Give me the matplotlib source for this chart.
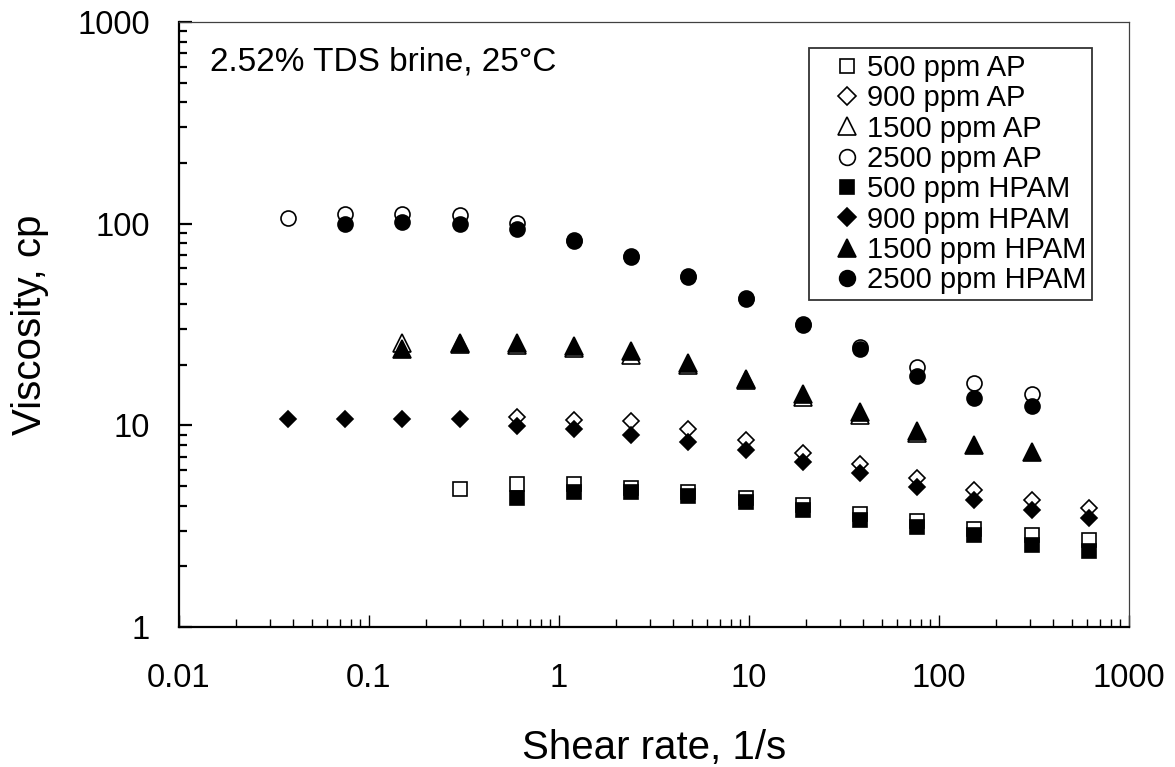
import numpy as np
import matplotlib
matplotlib.use("Agg")
import matplotlib.pyplot as plt
from matplotlib.ticker import LogLocator, NullFormatter

plt.rcParams['font.family'] = ['Liberation Sans', 'DejaVu Sans']

nan = np.nan
# shear rate, 1/s
rate = [0.0375, 0.075, 0.15, 0.3, 0.6, 1.2, 2.4, 4.8, 9.6, 19.2,
        38.4, 76.8, 153.6, 307.2, 614.4]

# viscosity, cp
ap500 = [nan, nan, nan, 4.85, 5.1, 5.1, 4.89, 4.67, 4.38, 4.01,
         3.65, 3.35, 3.06, 2.87, 2.69]
ap900 = [nan, nan, nan, nan, 11.0, 10.6, 10.45, 9.6, 8.5, 7.26,
         6.41, 5.46, 4.78, 4.26, 3.90]
ap1500 = [nan, nan, 25.5, 25.2, 25.0, 24.3, 22.4, 20.0, 16.8, 13.9,
          11.2, 9.2, nan, nan, nan]
ap2500 = [107, 112, 112, 110, 101, 83, 69, 55, 43, 31.8,
          24.5, 19.5, 16.3, 14.3, nan]
hp500 = [nan, nan, nan, nan, 4.36, 4.65, 4.65, 4.45, 4.15, 3.79,
         3.40, 3.12, 2.86, 2.55, 2.39]
hp900 = [10.7, 10.7, 10.8, 10.8, 9.95, 9.55, 9.0, 8.3, 7.55, 6.6,
         5.78, 4.96, 4.26, 3.80, 3.46]
hp1500 = [nan, nan, 24.0, 25.5, 25.5, 24.7, 23.3, 20.4, 16.9, 14.3,
          11.7, 9.4, 8.0, 7.35, nan]
hp2500 = [nan, 99.5, 102, 99.5, 93.7, 82.3, 68.5, 54.2, 42.3, 31.4,
          23.8, 17.6, 13.6, 12.5, nan]

labels = ["500 ppm AP", "900 ppm AP", "1500 ppm AP", "2500 ppm AP",
          "500 ppm HPAM", "900 ppm HPAM", "1500 ppm HPAM", "2500 ppm HPAM"]
series = [ap500, ap900, ap1500, ap2500, hp500, hp900, hp1500, hp2500]
markers = ['s', 'D', '^', 'o', 's', 'D', '^', 'o']
msizes = {'s': 10, 'D': 8.5, '^': 12.3, 'o': 10.8}

xticks = [0.01, 0.1, 1, 10, 100, 1000]
xticklabels = ["0.01", "0.1", "1", "10", "100", "1000"]
yticks = [1, 10, 100, 1000]
yticklabels = ["1", "10", "100", "1000"]

fig = plt.figure(figsize=(11.75, 7.67), dpi=100)
ax = fig.add_axes([0.1523, 0.1825, 0.9609 - 0.1523, 0.9713 - 0.1825])

for i, (vals, m, lab) in enumerate(zip(series, markers, labels)):
    face = 'white' if i < 4 else 'black'
    ax.plot(rate, vals, linestyle='none', marker=m, markersize=msizes[m],
            markerfacecolor=face, markeredgecolor='black',
            markeredgewidth=1.2, label=lab)

ax.set_xscale('log')
ax.set_yscale('log')
ax.set_xlim(0.01, 1000)
ax.set_ylim(1, 1000)

ax.set_xticks(xticks)
ax.set_xticklabels(xticklabels)
ax.set_yticks(yticks)
ax.set_yticklabels(yticklabels)
ax.xaxis.set_minor_locator(LogLocator(base=10, subs=np.arange(2, 10)))
ax.yaxis.set_minor_locator(LogLocator(base=10, subs=np.arange(2, 10)))
ax.xaxis.set_minor_formatter(NullFormatter())
ax.yaxis.set_minor_formatter(NullFormatter())

ax.tick_params(axis='both', which='both', direction='in', labelsize=23.5,
               top=False, right=False)
ax.tick_params(axis='x', which='major', pad=26)
ax.tick_params(axis='y', which='major', pad=21)
ax.tick_params(axis='y', which='major', length=9, width=1.6)
ax.tick_params(axis='y', which='minor', length=6, width=1.6)
ax.tick_params(axis='x', which='major', length=9, width=1.0)
ax.tick_params(axis='x', which='minor', length=6, width=1.0)

for s in ['left', 'bottom']:
    ax.spines[s].set_linewidth(1.6)
    ax.spines[s].set_color('black')
for s in ['top', 'right']:
    ax.spines[s].set_linewidth(0.9)
    ax.spines[s].set_color('#404040')

ax.set_xlabel("Shear rate, 1/s", fontsize=29)
ax.set_ylabel("Viscosity, cp", fontsize=29)
ax.xaxis.set_label_coords(0.5, -0.168)
ax.yaxis.set_label_coords(-0.137, 0.5)

ax.text(0.033, 0.92, "2.52% TDS brine, 25°C", transform=ax.transAxes,
        fontsize=24, va='baseline', ha='left')

leg = ax.legend(loc='upper right', bbox_to_anchor=(0.9613, 0.957),
                fontsize=21, frameon=True, fancybox=False, numpoints=1,
                borderpad=0.2, labelspacing=0.08, handlelength=2.2,
                handletextpad=-0.4, borderaxespad=0.0, markerscale=1.05)
leg.get_frame().set_edgecolor('black')
leg.get_frame().set_linewidth(1.3)

fig.savefig("out.png", dpi=100)
